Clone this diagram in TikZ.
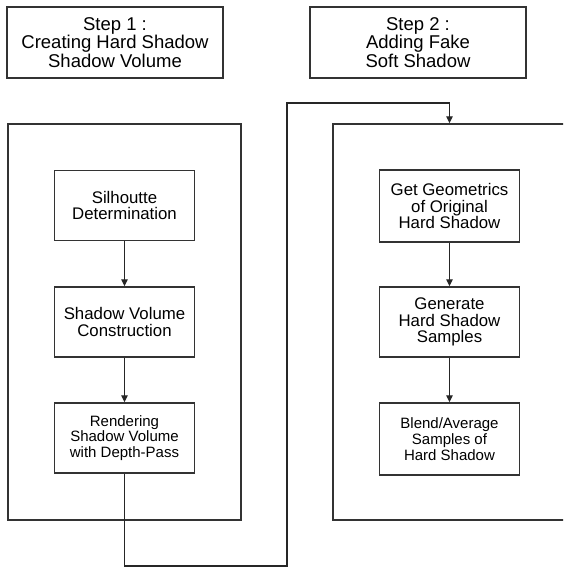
\documentclass[tikz,border=0pt]{standalone}
\usepackage{fontspec}
\setmainfont{Liberation Sans}
\usetikzlibrary{arrows.meta}
\begin{document}
\begin{tikzpicture}[x=1pt,y=-1pt,
  lc/.style={draw=black!80, line width=1.4pt},
  header/.style={lc, rectangle, minimum width=216pt, minimum height=71pt, inner sep=0pt, align=center,
     font=\fontsize{18.5}{17}\selectfont},
  panel/.style={lc, rectangle, minimum width=233pt, minimum height=396pt, inner sep=0pt},
  stepbox/.style={lc, rectangle, minimum width=140pt, minimum height=70pt, inner sep=0pt, align=center,
     font=\fontsize{16.8}{16.2}\selectfont},
  smallbox/.style={stepbox, font=\fontsize{15}{15.8}\selectfont},
  conn/.style={draw=black!85, line width=1.3pt},
  arr/.style={conn, -{Triangle[length=7pt,width=6.5pt]}}
]
\useasboundingbox (0,0) rectangle (563,568);
\fill[white] (0,0) rectangle (563,568);
\clip (0,0) rectangle (563,568);

\node[header] (h1) at (115,42.5) {Step 1 :\\Creating Hard Shadow\\Shadow Volume};
\node[header] (h2) at (418,42.5) {Step 2 :\\Adding Fake\\Soft Shadow};

\node[panel] (lp) at (124.5,322) {};
\node[panel] (rp) at (449.5,322) {};

\node[stepbox] (sil) at (124.5,205.5) {Silhoutte\\Determination};
\node[stepbox] (svc) at (124.5,322) {Shadow Volume\\Construction};
\node[smallbox] (ren) at (124.5,438) {Rendering\\Shadow Volume\\with Depth-Pass};

\node[stepbox, minimum height=72pt] (geo) at (449.5,206) {Get Geometrics\\of Original\\Hard Shadow};
\node[stepbox] (gen) at (449.5,322) {Generate\\Hard Shadow\\Samples};
\node[smallbox, minimum height=72pt] (ble) at (449.5,439) {Blend/Average\\Samples of\\Hard Shadow};

\draw[arr] (sil) -- (svc);
\draw[arr] (svc) -- (ren);
\draw[arr] (geo) -- (gen);
\draw[arr] (gen) -- (ble);

\coordinate (c1) at (287,566);
\coordinate (c2) at (287,103);
\draw[arr] (ren.south) |- (c1) -- (c2) -| (rp.north);
\end{tikzpicture}
\end{document}
